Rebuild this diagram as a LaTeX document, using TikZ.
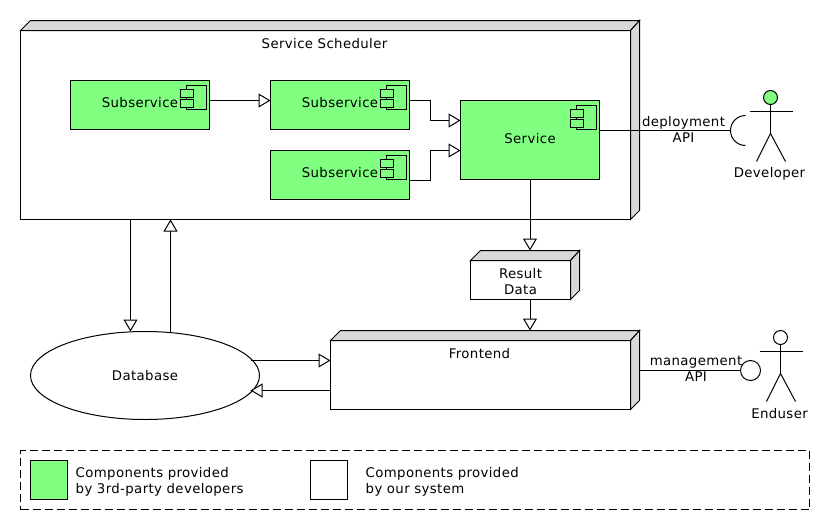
\documentclass[tikz,border=0pt]{standalone}
\usepackage{fontspec}
\setmainfont[LetterSpace=2.8]{DejaVu Sans}
\usetikzlibrary{arrows.meta,calc,shapes.geometric}
\definecolor{thirdparty}{HTML}{80FF80}
\definecolor{sideface}{HTML}{D8D8D8}
\tikzset{
  txt/.style={font=\fontsize{13.3}{16}\selectfont,inner sep=0pt,align=center},
  box/.style={draw=black,line width=1pt,rectangle,inner sep=0pt,outer sep=0pt,fill=white,
              minimum width=#1},
  comp/.style={box=139pt,fill=thirdparty,minimum height=49pt},
  face/.style={draw=black,line width=1pt,fill=sideface,line join=miter},
  icon/.style={draw=black,line width=1pt,fill=none},
  iconpart/.style={draw=black,line width=1pt,fill=thirdparty},
  link/.style={draw=black,line width=1pt},
  arr/.style={link,-{Triangle[open,fill=white,length=12pt,width=14pt,line width=1pt]}},
  limb/.style={draw=black,line width=1pt,line cap=butt},
  keybox/.style={box=37pt,minimum height=39pt,line width=1.8pt},
}
\newcommand{\compicon}[1]{%
  \begin{scope}[shift={(#1.north east)}]
    \path[icon] (-23,5) rectangle (-3,29);
    \path[iconpart] (-29,9) rectangle (-16,17);
    \path[iconpart] (-29,19) rectangle (-16,27);
  \end{scope}}
\newcommand{\threed}[1]{%
  \path[face] (#1.north west) -- ++(10,-10) -- ($(#1.north east)+(9,-10)$) -- (#1.north east) -- cycle;
  \path[face] (#1.north east) -- ++(9,-10) -- ($(#1.south east)+(9,-9)$) -- (#1.south east) -- cycle;}
\newcommand{\stickman}[2]{% name, head fill
  \node[circle,draw=black,line width=1pt,fill=#2,minimum size=14pt,inner sep=0pt,outer sep=0pt] at (#1) (#1head) {};
  \path[limb] (#1head.south) -- ++(0,29) coordinate (#1hip);
  \path[limb] ($(#1head.south)+(-21,7)$) -- ++(43,0);
  \path[limb] ($(#1hip)+(-14,28)$) -- (#1hip) -- ($(#1hip)+(15,28)$);}
\begin{document}
\begin{tikzpicture}[x=1pt,y=-1pt]
\useasboundingbox (0,0) rectangle (840,530);
\begin{scope}[shift={(0.5,0.5)}]
  % Service Scheduler
  \node[box=610pt,minimum height=189pt,label={[txt,yshift=81.5pt,xshift=-1pt]center:Service Scheduler}] (sched) at (325,124.5) {};
  \threed{sched}
  % Subservices and service
  \node[comp,label={[txt,yshift=2.8pt]center:Subservice}] (subA) at (139.5,104.5) {};
  \node[comp,label={[txt,yshift=2.8pt]center:Subservice}] (subB) at (339.5,104.5) {};
  \node[comp,label={[txt,yshift=2.8pt]center:Subservice}] (subC) at (339.5,174.5) {};
  \node[comp,minimum height=79pt,label={[txt,yshift=1.2pt]center:Service}] (service) at (529.5,139.5) {};
  \compicon{subA}\compicon{subB}\compicon{subC}\compicon{service}
  % Result data
  \node[box=100pt,minimum height=39pt,label={[txt,yshift=-1.2pt]center:Result\\Data}] (result) at (520,279.5) {};
  \threed{result}
  % Frontend
  \node[box=300pt,minimum height=69pt,label={[txt,yshift=21.5pt,xshift=-1pt]center:Frontend}] (front) at (480,374.5) {};
  \threed{front}
  % Database
  \node[ellipse,draw=black,line width=1pt,fill=white,minimum width=229pt,minimum height=88pt,inner sep=0pt,outer sep=0pt,txt] (db) at (144.5,375) {Database};
  % Actors
  \coordinate (dev) at (770,97);
  \stickman{dev}{thirdparty}
  \node[txt] (devlabel) at (769,173) {Developer};
  \coordinate (user) at (780,337);
  \stickman{user}{white}
  \node[txt] (userlabel) at (779,413) {Enduser};
  % Interfaces
  \coordinate (socket) at (730,130);
  \path[link] (745,115) arc[start angle=90,end angle=270,radius=15pt];
  \node[circle,draw=black,line width=1pt,fill=white,minimum size=20pt,inner sep=0pt,outer sep=0pt] (lolly) at (750,370) {};
  % Connectors
  \path[arr] (subA.east |- 0,100) -- (subB.west |- 0,100);
  \path[arr] (subB.east |- 0,100) -- (430,100) |- (service.west |- 0,120);
  \path[arr] (subC.east |- 0,180) -- (430,180) |- (service.west |- 0,150);
  \path[link] (service.east |- 0,130) -- (socket);
  \path[arr] (service.south) -- ($(result.north -| service.south)+(0,-10)$);
  \path[arr] (result.south -| service.south) -- ($(front.north -| service.south)+(0,-10)$);
  \path[link] ($(front.north east)+(9,30)$) -- (lolly.west);
  \path[arr] (130,219) -- ($(db.center)+(-14.5,-44)$);
  \path[arr] ($(db.center)+(25.5,-43.5)$) -- (170,219);
  \path[arr] (250,360) -- (front.west |- 0,360);
  \path[arr] (front.west |- 0,390) -- (250,390);
  % API labels
  \node[txt,fill=none] (deplabel) at (683,128.5) {deployment\\API};
  \node[txt,fill=none] (manlabel) at (695.5,368.5) {management\\API};
  % Legend
  \node[box=789pt,minimum height=59pt,dash pattern=on 8pt off 4pt,fill=none] (legend) at (414.5,479.5) {};
  \node[keybox,fill=thirdparty] (keyA) at (48.5,479.5) {};
  \node[txt,anchor=west,align=left] (keyAt) at (75,481.5) {Components provided\\by 3rd-party developers};
  \node[keybox] (keyB) at (328.5,479.5) {};
  \node[txt,anchor=west,align=left] (keyBt) at (365,481.5) {Components provided\\by our system};
\end{scope}
\end{tikzpicture}
\end{document}
